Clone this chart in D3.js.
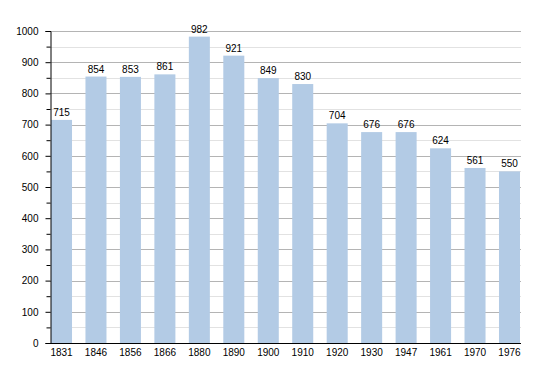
<!DOCTYPE html>
<html>
<head>
<meta charset="utf-8">
<script src="https://cdn.jsdelivr.net/npm/d3@7"></script>
<style>
  body { margin: 0; background: #fff; }
  text { font-family: "Liberation Sans", Arial, sans-serif; font-size: 10px; fill: #000; }
</style>
</head>
<body>
<svg></svg>
<script>
let years = ['1831','1846','1856','1866','1880','1890','1900','1910','1920','1930','1947','1961','1970','1976']
let population = [715, 854, 853, 861, 982, 921, 849, 830, 704, 676, 676, 624, 561, 550]
let majorTicks = [0, 100, 200, 300, 400, 500, 600, 700, 800, 900, 1000]
let minorTicks = [50, 150, 250, 350, 450, 550, 650, 750, 850, 950]

let width = 550
let height = 373
let plotLeft = 50
let plotRight = 521
let plotTop = 31
let plotBottom = 343

let svg = d3.select('svg')
  .attr('width', width)
  .attr('height', height)

let xScale = d3.scaleBand()
  .domain(years)
  .range([plotLeft + 1, plotRight - 1])
  .paddingInner(0.39)
  .paddingOuter(0)

let yScale = d3.scaleLinear()
  .domain([0, 1000])
  .range([plotBottom, plotTop])

// grid
svg.append('g')
  .selectAll('line')
  .data(minorTicks)
  .enter()
  .append('line')
  .attr('x1', plotLeft)
  .attr('x2', plotRight)
  .attr('y1', d => Math.round(yScale(d)) + 0.5)
  .attr('y2', d => Math.round(yScale(d)) + 0.5)
  .attr('stroke', '#e2e2e2')

svg.append('g')
  .selectAll('line')
  .data(majorTicks.slice(1))
  .enter()
  .append('line')
  .attr('x1', plotLeft)
  .attr('x2', plotRight)
  .attr('y1', d => Math.round(yScale(d)) + 0.5)
  .attr('y2', d => Math.round(yScale(d)) + 0.5)
  .attr('stroke', '#b4b4b4')

// bars
svg.append('g')
  .selectAll('rect')
  .data(population)
  .enter()
  .append('rect')
  .attr('x', (d, i) => xScale(years[i]))
  .attr('y', d => yScale(d))
  .attr('width', xScale.bandwidth())
  .attr('height', d => plotBottom - yScale(d))
  .attr('fill', '#b3cbe5')

svg.append('g')
  .selectAll('text')
  .data(population)
  .enter()
  .append('text')
  .attr('x', (d, i) => xScale(years[i]) + xScale.bandwidth() / 2)
  .attr('y', d => yScale(d) - 4)
  .attr('text-anchor', 'middle')
  .text(d => d)

// y axis
let yAxis = d3.axisLeft(yScale)
  .tickValues(majorTicks)
  .tickSize(5)
  .tickFormat(d3.format('d'))

let yg = svg.append('g')
  .attr('transform', `translate(${plotLeft + 0.5},0)`)
  .call(yAxis)
yg.selectAll('text').attr('x', -12)

svg.append('g')
  .attr('transform', `translate(${plotLeft + 0.5},0)`)
  .call(d3.axisLeft(yScale).tickValues(minorTicks).tickSize(4).tickFormat(''))
  .call(g => g.select('.domain').remove())

// x axis
let xg = svg.append('g')
  .attr('transform', `translate(0,${plotBottom + 0.5})`)
  .call(d3.axisBottom(xScale).tickSize(0).tickPadding(5))
xg.select('.domain').attr('d', `M${plotLeft},0H${plotRight}`)

svg.selectAll('.domain').attr('stroke', '#000')
svg.selectAll('.tick text').style('font-family', '"Liberation Sans", Arial, sans-serif').style('font-size', '10px')
</script>
</body>
</html>
